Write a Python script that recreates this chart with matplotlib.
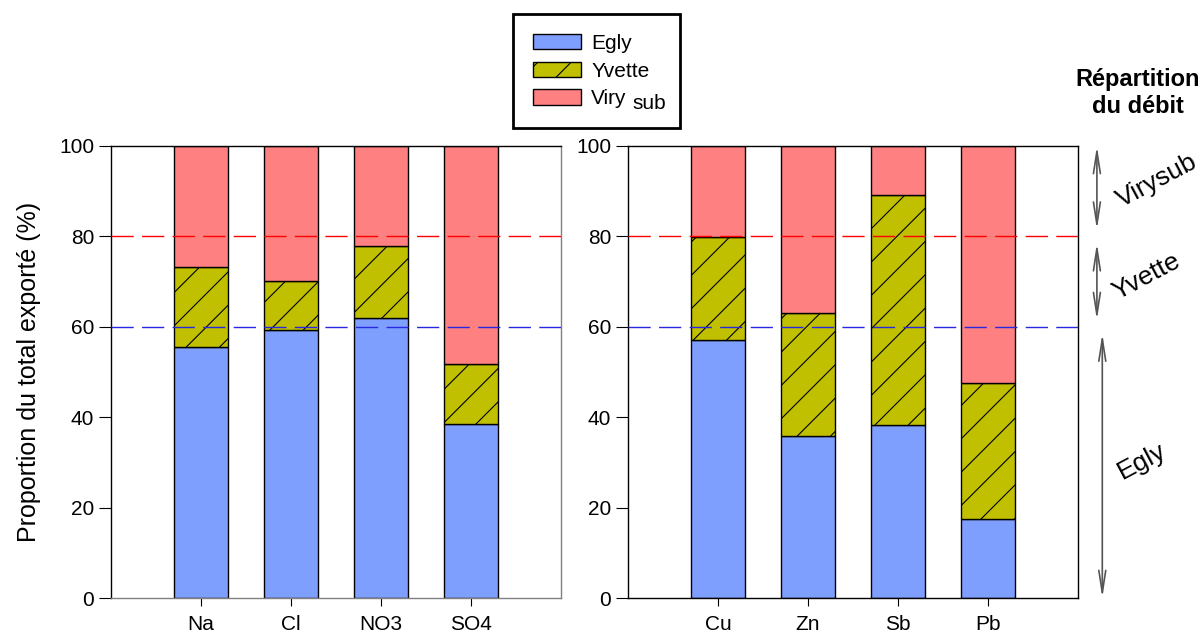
import numpy as np
import matplotlib
matplotlib.use("Agg")
import matplotlib.pyplot as plt

plt.rcParams['font.family'] = ['Liberation Sans', 'DejaVu Sans']
plt.rcParams['hatch.linewidth'] = 0.8
plt.rcParams['hatch.color'] = '#333333'

# data (% of total exported)
ions = ["Na", "Cl", "NO3", "SO4"]
ions_egly = [55.6, 59.2, 61.9, 38.6]
ions_yvette = [17.7, 10.9, 15.9, 13.2]

metals = ["Cu", "Zn", "Sb", "Pb"]
metals_egly = [57.0, 35.8, 38.2, 17.5]
metals_yvette = [22.9, 27.3, 50.9, 30.0]

# flow split between the three sources
flow_limits = [0, 60, 80, 100]
flow_names = ["Egly", "Yvette", "Virysub"]

BLUE = "#7F9FFF"
OLIVE = "#C0C000"
PINK = "#FF8080"


def stacked(ax, names, egly, yvette):
    x = np.arange(len(names))
    egly = np.array(egly)
    yvette = np.array(yvette)
    viry = 100 - egly - yvette
    w = 0.6
    ax.bar(x, egly, w, color=BLUE, edgecolor="black", linewidth=1, label="Egly")
    ax.bar(x, yvette, w, bottom=egly, color=OLIVE, edgecolor="black", linewidth=1,
           hatch="/", label="Yvette")
    ax.bar(x, viry, w, bottom=egly + yvette, color=PINK, edgecolor="black", linewidth=1,
           label="Viry")
    ax.axhline(flow_limits[2], color="#FF0000", lw=1, dashes=(16, 6), zorder=5)
    ax.axhline(flow_limits[1], color="#2828E0", lw=1, dashes=(16, 6), zorder=5)
    ax.set_xlim(-1, len(names))
    ax.set_ylim(0, 100)
    ax.set_yticks(np.arange(0, 101, 20))
    ax.set_xticks(x)
    ax.set_xticklabels(names, fontsize=15)
    ax.tick_params(axis="y", direction="out", length=9, labelsize=15, pad=3)
    ax.tick_params(axis="x", direction="out", length=6, pad=6)
    for s in ax.spines.values():
        s.set_linewidth(1)


fig = plt.figure(figsize=(12.03, 6.35), dpi=100)
ax1 = fig.add_axes([111 / 1203, 37 / 635, 450 / 1203, 452 / 635])
ax2 = fig.add_axes([628 / 1203, 37 / 635, 450 / 1203, 452 / 635])

stacked(ax1, ions, ions_egly, ions_yvette)
stacked(ax2, metals, metals_egly, metals_yvette)
ax1.spines["right"].set_color("#808080")
ax1.spines["bottom"].set_color("#808080")

ax1.set_ylabel("Proportion du total exporté (%)", fontsize=18)
ax1.yaxis.set_label_coords(-70 / 450, 0.5)

handles, labels = ax1.get_legend_handles_labels()
leg = fig.legend(handles, labels, loc="upper left",
                 bbox_to_anchor=(513 / 1203, 1 - 128 / 635, 167 / 1203, 114 / 635),
                 mode="expand", fontsize=15, frameon=True, fancybox=False,
                 handlelength=2.3, handleheight=0.75, labelspacing=0.42, borderpad=0.95,
                 handletextpad=0.5, borderaxespad=0, framealpha=1)
leg.get_frame().set_edgecolor("black")
leg.get_frame().set_linewidth(2)

# lowered "sub" after "Viry" in the legend
fig.canvas.draw()
renderer = fig.canvas.get_renderer()
bb = leg.get_texts()[2].get_window_extent(renderer)
fig.text((bb.x1 + 6) / 1203, (bb.y0 - 5) / 635, "sub", fontsize=15,
         ha="left", va="bottom", zorder=10)

fig.text(1138 / 1203, 1 - 93 / 635, "Répartition\ndu débit", ha="center", va="center",
         fontsize=17, fontweight="bold", linespacing=1.2)

# arrows showing the flow split
arrow_x = [4.27, 4.21, 4.21]
label_pos = [(4.71, 30.3), (4.76, 71.2), (4.88, 92.3)]
for i in range(3):
    lo = flow_limits[i] + 1.5
    hi = flow_limits[i + 1] - 1.5
    if i == 0:
        lo = 0
    if i == 2:
        hi = 100
    ax2.annotate("", xy=(arrow_x[i], lo), xytext=(arrow_x[i], hi),
                 arrowprops=dict(arrowstyle="<->,head_length=1.6,head_width=0.25",
                                 color="#555555", lw=1.2, shrinkA=0, shrinkB=0),
                 annotation_clip=False)
    ax2.text(label_pos[i][0], label_pos[i][1], flow_names[i], rotation=28,
             ha="center", va="center", fontsize=19, clip_on=False)

fig.savefig("out.png", dpi=100)
